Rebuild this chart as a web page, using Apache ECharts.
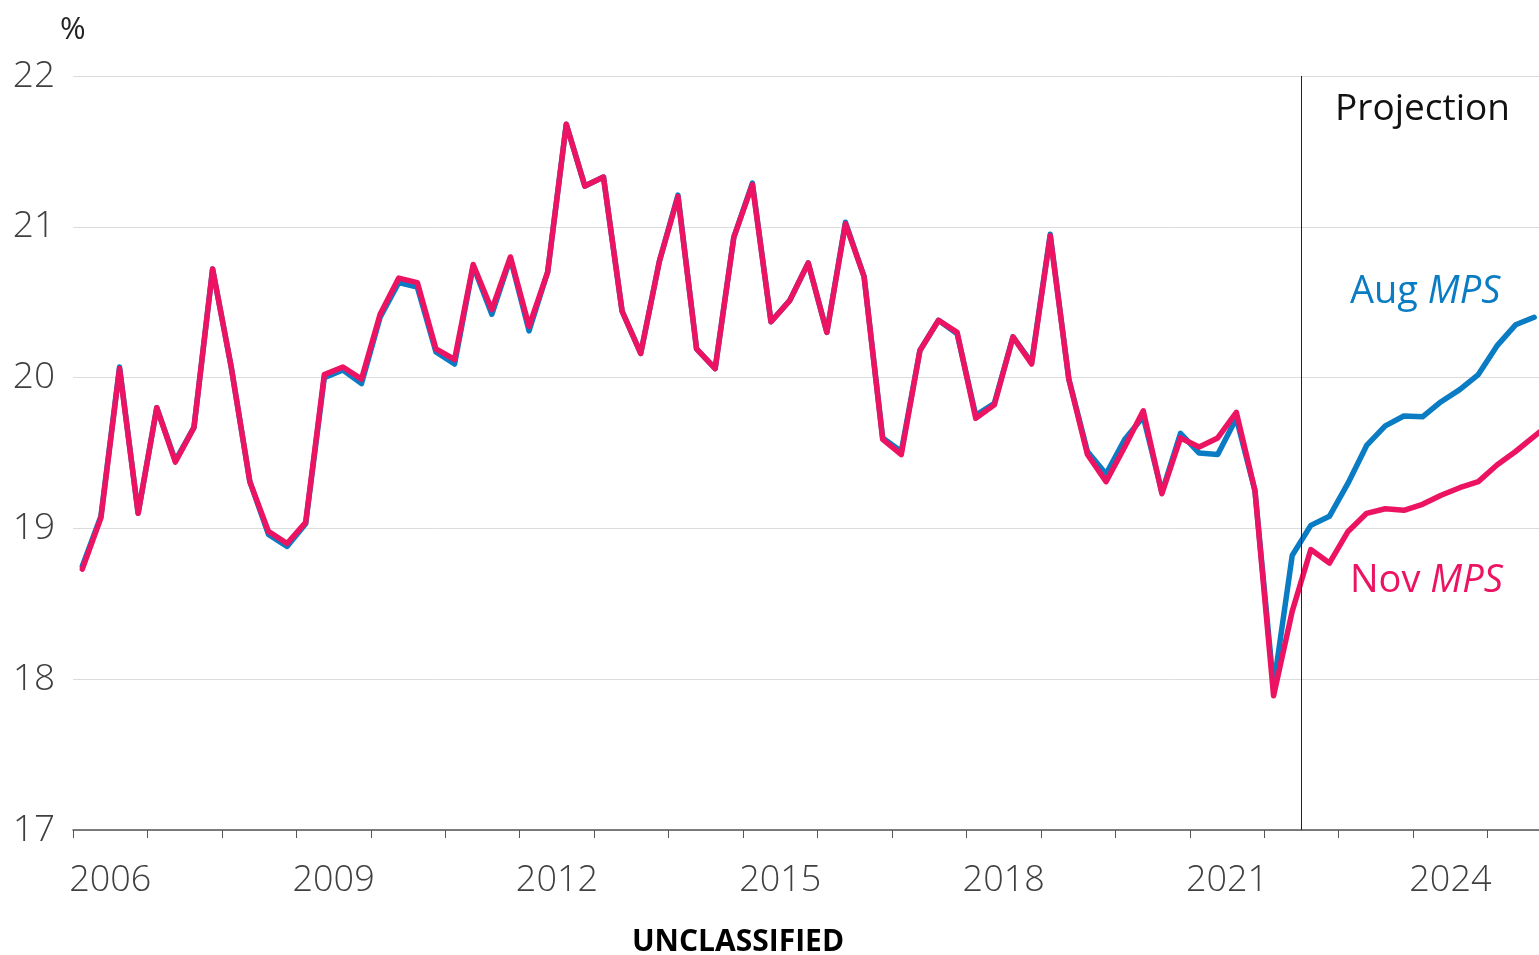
<!DOCTYPE html>
<html>
<head>
<meta charset="utf-8">
<script src="https://cdn.jsdelivr.net/npm/echarts@6/dist/echarts.min.js"></script>
<style>
html,body{margin:0;padding:0;background:#fff;}
#chart{width:1539px;height:955px;}
</style>
</head>
<body>
<div id="chart"></div>
<script>
// Quarterly series, first quarter = 2006 Q1
var startYear = 2006;
var novMPS = [
  18.73, 19.07, 20.06, 19.10, 19.80, 19.44, 19.67, 20.72, 20.07, 19.31,
  18.98, 18.90, 19.04, 20.02, 20.07, 19.99, 20.42, 20.66, 20.63, 20.19,
  20.12, 20.75, 20.45, 20.80, 20.34, 20.70, 21.68, 21.27, 21.33, 20.44,
  20.16, 20.77, 21.20, 20.19, 20.06, 20.93, 21.28, 20.37, 20.51, 20.76,
  20.30, 21.02, 20.67, 19.59, 19.49, 20.18, 20.38, 20.30, 19.73, 19.82,
  20.27, 20.09, 20.94, 19.99, 19.49, 19.31, 19.54, 19.78, 19.23, 19.60,
  19.54, 19.60, 19.77, 19.25, 17.89, 18.45, 18.86, 18.77, 18.98, 19.10,
  19.13, 19.12, 19.16, 19.22, 19.27, 19.31, 19.42, 19.51, 19.61, 19.71
];
var augMPS = [
  18.75, 19.08, 20.07, 19.10, 19.80, 19.45, 19.67, 20.72, 20.07, 19.31,
  18.96, 18.88, 19.03, 20.00, 20.05, 19.96, 20.40, 20.63, 20.60, 20.17,
  20.09, 20.74, 20.42, 20.79, 20.31, 20.70, 21.68, 21.27, 21.33, 20.44,
  20.16, 20.77, 21.21, 20.19, 20.06, 20.93, 21.29, 20.37, 20.51, 20.76,
  20.30, 21.03, 20.67, 19.60, 19.51, 20.18, 20.38, 20.29, 19.75, 19.83,
  20.27, 20.10, 20.95, 19.99, 19.51, 19.36, 19.59, 19.74, 19.24, 19.63,
  19.50, 19.49, 19.73, 19.25, 17.95, 18.82, 19.02, 19.08, 19.30, 19.55,
  19.68, 19.745, 19.74, 19.84, 19.92, 20.02, 20.21, 20.35, 20.40
];
var yTicks = [17, 18, 19, 20, 21, 22];
var xLabelYears = [2006, 2009, 2012, 2015, 2018, 2021, 2024];
var projectionStart = 2022.5;
var xMax = 2025.69;

function toPoints(arr) {
  return arr.map(function (v, i) { return [startYear + (i + 0.5) / 4, v]; });
}

var FONT = '"Open Sans", "Noto Sans", sans-serif';
var BLUE = '#0a7cc4';
var PINK = '#ec1462';

var chart = echarts.init(document.getElementById('chart'), null, {renderer: 'canvas'});
chart.setOption({
  animation: false,
  grid: {left: 73, right: 0, top: 76, bottom: 125, containLabel: false},
  xAxis: [
    {
      type: 'value', min: startYear, max: xMax, interval: 1,
      axisLine: {show: true, onZero: false, lineStyle: {color: '#555', width: 1.5}},
      axisTick: {show: true, length: 8, lineStyle: {color: '#555', width: 1}},
      axisLabel: {show: false},
      splitLine: {show: false}
    },
    {
      type: 'value', min: startYear - 0.5, max: xMax - 0.5, interval: 0.5,
      position: 'bottom',
      axisLine: {show: false}, axisTick: {show: false}, splitLine: {show: false},
      axisLabel: {
        show: true, margin: 33, fontSize: 36, fontWeight: 300, fontFamily: FONT, color: '#404040',
        showMinLabel: false, showMaxLabel: false,
        formatter: function (v) {
          return xLabelYears.indexOf(Math.round(v * 100) / 100) >= 0 ? String(v) : '';
        }
      }
    }
  ],
  yAxis: {
    type: 'value', min: yTicks[0], max: yTicks[yTicks.length - 1], interval: 1,
    axisLine: {show: false}, axisTick: {show: false},
    axisLabel: {margin: 18, fontSize: 37, fontWeight: 300, fontFamily: FONT, color: '#404040', padding: [5, 0, 0, 0]},
    splitLine: {show: true, lineStyle: {color: '#dcdcdc', width: 1}}
  },
  series: [
    {
      name: 'Aug MPS', type: 'line', xAxisIndex: 0, data: toPoints(augMPS),
      showSymbol: false, symbol: 'none', clip: true,
      lineStyle: {color: BLUE, width: 5.5, cap: 'round', join: 'round'}
    },
    {
      name: 'Nov MPS', type: 'line', xAxisIndex: 0, data: toPoints(novMPS),
      showSymbol: false, symbol: 'none', clip: true,
      lineStyle: {color: PINK, width: 5.5, cap: 'round', join: 'round'},
      markLine: {
        silent: true, symbol: ['none', 'none'], label: {show: false},
        lineStyle: {color: '#222', width: 1, type: 'solid'},
        data: [{xAxis: projectionStart}]
      }
    }
  ],
  graphic: [
    {type: 'text', x: 60, y: 15, style: {text: '%', font: '31px ' + FONT, fill: '#222'}},
    {type: 'text', x: 1335, y: 91, style: {text: 'Projection', font: '37px ' + FONT, fill: '#111'}},
    {type: 'text', x: 1350, y: 273, style: {
      text: '{n|Aug }{i|MPS}',
      rich: {
        n: {fontSize: 38, fontFamily: FONT, fill: BLUE},
        i: {fontSize: 38, fontFamily: FONT, fontStyle: 'italic', fill: BLUE}
      }
    }},
    {type: 'text', x: 1350, y: 562, style: {
      text: '{n|Nov }{i|MPS}',
      rich: {
        n: {fontSize: 38, fontFamily: FONT, fill: PINK},
        i: {fontSize: 38, fontFamily: FONT, fontStyle: 'italic', fill: PINK}
      }
    }},
    {type: 'text', x: 738, y: 942, style: {text: 'UNCLASSIFIED', font: 'bold 30px ' + FONT, fill: '#000', textAlign: 'center', textVerticalAlign: 'middle'}}
  ]
});
</script>
</body>
</html>
